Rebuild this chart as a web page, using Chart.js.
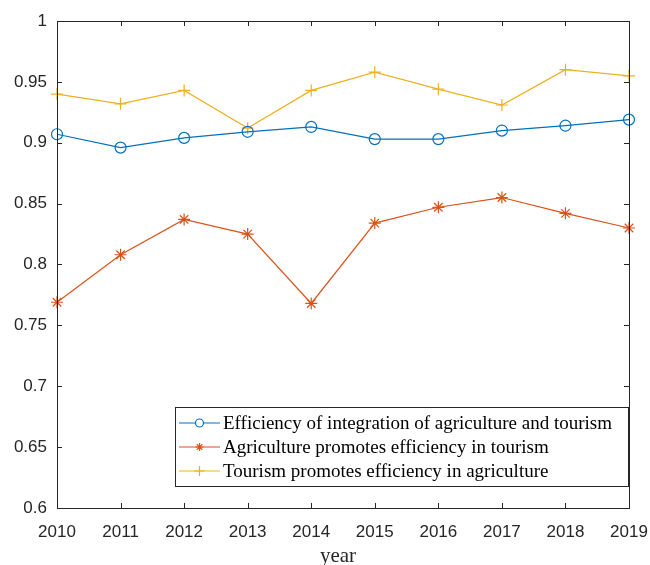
<!DOCTYPE html>
<html>
<head>
<meta charset="utf-8">
<script src="https://cdn.jsdelivr.net/npm/chart.js@4/dist/chart.umd.min.js"></script>
<style>
  html, body { margin: 0; padding: 0; background: #ffffff; }
  #wrap { width: 650px; height: 565px; }
</style>
</head>
<body>
<div id="wrap"><canvas id="c" width="650" height="565"></canvas></div>
<script>
// Years on the horizontal axis
const years = [2010, 2011, 2012, 2013, 2014, 2015, 2016, 2017, 2018, 2019];

// Efficiency series
const integrationEfficiency = [0.907, 0.896, 0.904, 0.909, 0.913, 0.903, 0.903, 0.910, 0.914, 0.919];
const agricultureToTourism  = [0.769, 0.808, 0.837, 0.825, 0.768, 0.834, 0.847, 0.855, 0.842, 0.830];
const tourismToAgriculture  = [0.940, 0.932, 0.943, 0.912, 0.943, 0.958, 0.944, 0.931, 0.960, 0.955];

const seriesNames = [
  'Efficiency of integration of agriculture and tourism',
  'Agriculture promotes efficiency in tourism',
  'Tourism promotes efficiency in agriculture'
];

// Vertical axis ticks
const yTickValues = [0.6, 0.65, 0.7, 0.75, 0.8, 0.85, 0.9, 0.95, 1];
const xAxisTitle = 'year';

const colors = ['#0072BD', '#D95319', '#EDB120'];
const markers = ['circle', 'star', 'cross'];
const axisColor = '#262626';

const seriesValues = [integrationEfficiency, agricultureToTourism, tourismToAgriculture];

const datasets = seriesValues.map((vals, i) => ({
  label: seriesNames[i],
  data: years.map((yr, k) => ({ x: yr, y: vals[k] })),
  borderColor: colors[i],
  backgroundColor: 'rgba(0,0,0,0)',
  pointBorderColor: colors[i],
  pointBackgroundColor: 'rgba(0,0,0,0)',
  borderWidth: 1.2,
  pointStyle: markers[i],
  pointRadius: i === 0 ? 5.5 : 6,
  pointBorderWidth: 1.2,
  tension: 0,
  clip: false
}));

// Box around the plot area with inward tick marks on all four sides
const boxAndTicks = {
  id: 'boxAndTicks',
  afterDatasetsDraw(chart) {
    const { ctx, chartArea: a, scales } = chart;
    const tl = 5;
    ctx.save();
    ctx.strokeStyle = axisColor;
    ctx.lineWidth = 1;
    ctx.strokeRect(Math.round(a.left) + 0.5, Math.round(a.top) + 0.5,
                   Math.round(a.right - a.left), Math.round(a.bottom - a.top));
    ctx.beginPath();
    years.forEach(v => {
      const px = Math.round(scales.x.getPixelForValue(v)) + 0.5;
      ctx.moveTo(px, a.bottom); ctx.lineTo(px, a.bottom - tl);
      ctx.moveTo(px, a.top); ctx.lineTo(px, a.top + tl);
    });
    yTickValues.forEach(v => {
      const py = Math.round(scales.y.getPixelForValue(v)) + 0.5;
      ctx.moveTo(a.left, py); ctx.lineTo(a.left + tl, py);
      ctx.moveTo(a.right, py); ctx.lineTo(a.right - tl, py);
    });
    ctx.stroke();
    ctx.restore();
  },
  afterDraw(chart) {
    const { ctx, chartArea: a } = chart;
    // axis title
    ctx.save();
    ctx.fillStyle = axisColor;
    ctx.font = '21px "Liberation Serif", "Times New Roman", serif';
    ctx.textAlign = 'center';
    ctx.textBaseline = 'alphabetic';
    ctx.fillText(xAxisTitle, (a.left + a.right) / 2 - 5, 562);
    ctx.restore();

    // legend box
    const bx = 175.5, by = 407.5, bw = 453, bh = 79;
    ctx.save();
    ctx.fillStyle = '#ffffff';
    ctx.fillRect(bx, by, bw, bh);
    ctx.strokeStyle = axisColor;
    ctx.lineWidth = 1;
    ctx.strokeRect(bx, by, bw, bh);
    const rows = [423, 447, 471];
    const legendMarkerSize = [4, 4, 5];
    ctx.font = '19px "Liberation Serif", "Times New Roman", serif';
    ctx.textBaseline = 'middle';
    ctx.textAlign = 'left';
    seriesNames.forEach((name, i) => {
      const y = rows[i];
      ctx.strokeStyle = colors[i];
      ctx.lineWidth = 1.2;
      ctx.beginPath();
      ctx.moveTo(179, y); ctx.lineTo(220, y);
      ctx.stroke();
      Chart.helpers.drawPoint(ctx, {
        pointStyle: markers[i],
        radius: legendMarkerSize[i],
        borderWidth: 1.2
      }, 199.5, y);
      ctx.fillStyle = '#000000';
      ctx.fillText(name, 223, y + 1);
    });
    ctx.restore();
  }
};

new Chart(document.getElementById('c'), {
  type: 'line',
  data: { datasets },
  plugins: [boxAndTicks],
  options: {
    responsive: false,
    devicePixelRatio: 1,
    animation: false,
    layout: { padding: { left: 0, right: 21, top: 21, bottom: 0 } },
    plugins: { legend: { display: false }, tooltip: { enabled: false } },
    scales: {
      x: {
        type: 'linear',
        min: 2010, max: 2019,
        afterFit(s) { s.height = 57; s.paddingLeft = 0; s.paddingRight = 0; },
        afterBuildTicks(s) { s.ticks = years.map(v => ({ value: v })); },
        grid: { display: false, drawTicks: false },
        border: { display: false },
        ticks: {
          color: axisColor,
          padding: 14,
          maxRotation: 0,
          autoSkip: false,
          font: { family: '"Liberation Sans", Arial, sans-serif', size: 17 },
          callback: v => String(v)
        }
      },
      y: {
        min: 0.6, max: 1,
        afterFit(s) { s.width = 57; s.paddingTop = 0; s.paddingBottom = 0; },
        afterBuildTicks(s) { s.ticks = yTickValues.map(v => ({ value: v })); },
        grid: { display: false, drawTicks: false },
        border: { display: false },
        ticks: {
          color: axisColor,
          padding: 10,
          font: { family: '"Liberation Sans", Arial, sans-serif', size: 17 },
          callback: v => String(+(+v).toFixed(2))
        }
      }
    }
  }
});
</script>
</body>
</html>
